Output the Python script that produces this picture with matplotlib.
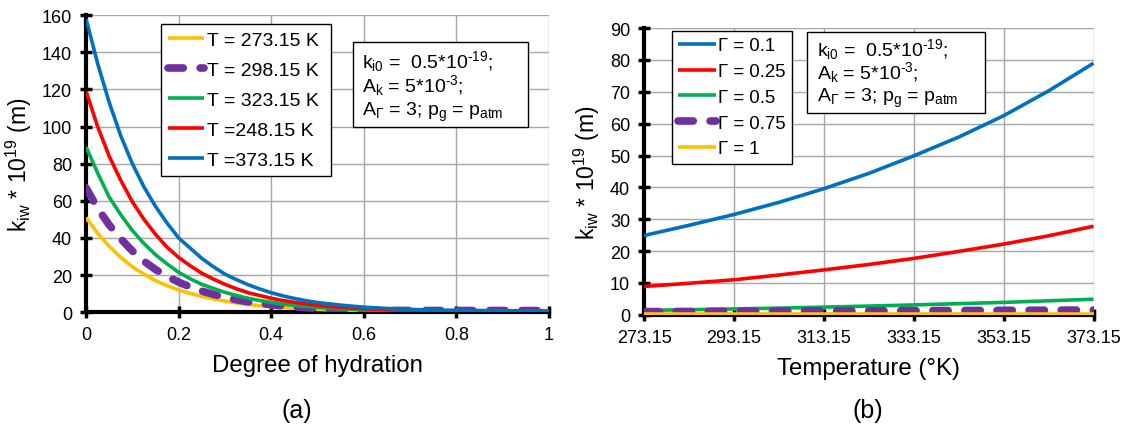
import matplotlib
matplotlib.use("Agg")
import matplotlib.pyplot as plt
from matplotlib.patches import Rectangle

plt.rcParams['font.family'] = ['Liberation Sans', 'DejaVu Sans']
plt.rcParams['mathtext.fontset'] = 'custom'
plt.rcParams['mathtext.rm'] = 'Liberation Sans'
plt.rcParams['mathtext.it'] = 'Liberation Sans:italic'

# (a) k_iw vs degree of hydration
hyd = [0, 0.025, 0.05, 0.075, 0.1, 0.125, 0.15, 0.175, 0.2, 0.225, 0.25,
       0.275, 0.3, 0.325, 0.35, 0.375, 0.4, 0.425, 0.45, 0.475, 0.5,
       0.55, 0.6, 0.65, 0.7, 0.75, 0.8, 0.85, 0.9, 0.95, 1.0]
k_273 = [51, 42.5, 35.5, 29.5, 24.5, 20.5, 17, 14.3, 12, 10.1, 8.5,
         7.1, 6, 5, 4.2, 3.5, 3, 2.5, 2.1, 1.8, 1.5,
         1.1, 0.8, 0.6, 0.5, 0.4, 0.35, 0.3, 0.3, 0.3, 0.3]
k_298 = [67, 56, 47, 39.5, 33, 27.5, 23, 19.3, 16.2, 13.6, 11.4,
         9.6, 8, 6.7, 5.6, 4.8, 4, 3.4, 2.8, 2.4, 2,
         1.5, 1.2, 1.0, 0.9, 0.9, 0.9, 0.9, 0.9, 0.9, 0.9]
k_323 = [89, 75, 62, 52.5, 44, 37, 31, 26, 21.5, 18, 15,
         12.8, 10.7, 9, 7.5, 6.3, 5.3, 4.4, 3.7, 3.1, 2.6,
         1.8, 1.3, 0.9, 0.65, 0.5, 0.4, 0.35, 0.3, 0.3, 0.3]
k_248 = [119, 100, 84, 71, 59.5, 50, 42, 35, 29.5, 25, 21,
         17.8, 15, 12.6, 10.5, 9, 7.5, 6.3, 5.3, 4.5, 3.7,
         2.6, 1.9, 1.3, 1.0, 0.7, 0.5, 0.4, 0.35, 0.3, 0.3]
k_373 = [158, 134, 113, 95, 80, 67.5, 57, 48, 40, 34.5, 29,
         24.5, 20.5, 17.5, 14.8, 12.5, 10.5, 8.8, 7.4, 6.2, 5.2,
         3.8, 2.7, 2.0, 1.5, 1.2, 1.0, 0.9, 0.8, 0.75, 0.7]

# (b) k_iw vs temperature
temp = [273.15, 283.15, 293.15, 303.15, 313.15, 323.15,
        333.15, 343.15, 353.15, 363.15, 373.15]
g_01 = [24.9, 28.1, 31.5, 35.3, 39.6, 44.4, 49.9, 55.8, 62.5, 70.3, 79.0]
g_025 = [8.9, 9.9, 11.0, 12.5, 14.1, 15.8, 17.7, 19.9, 22.2, 24.8, 27.8]
g_05 = [1.4, 1.6, 1.85, 2.1, 2.4, 2.75, 3.1, 3.5, 3.9, 4.4, 4.9]
g_075 = [1.0, 1.05, 1.1, 1.15, 1.2, 1.25, 1.3, 1.35, 1.4, 1.45, 1.5]
g_1 = [0.3, 0.3, 0.3, 0.3, 0.3, 0.3, 0.3, 0.3, 0.3, 0.3, 0.3]

YELLOW = '#FFC000'
PURPLE = '#7030A0'
GREEN = '#00B050'
RED = '#FF0000'
BLUE = '#0070C0'

ylab = r'k$_{\mathrm{iw}}$ * 10$^{\mathrm{19}}$ (m)'
note = [r'k$_{\mathrm{i0}}$ =  0.5*10$^{\mathrm{‐19}}$;',
        r'A$_{\mathrm{k}}$ = 5*10$^{\mathrm{‐3}}$;',
        r'A$_{\mathrm{\Gamma}}$ = 3; p$_{\mathrm{g}}$ = p$_{\mathrm{atm}}$']

W, H = 1132, 435
fig = plt.figure(figsize=(W / 100, H / 100), dpi=100)
ax1 = fig.add_axes([0.076, 0.280, 0.409, 0.683])
ax2 = fig.add_axes([0.569, 0.274, 0.397, 0.659])


def style(ax):
    ax.grid(True, color='#a6a6a6', lw=1)
    ax.set_axisbelow(True)
    for s in ['top', 'right']:
        ax.spines[s].set_visible(False)
    for s in ['left', 'bottom']:
        ax.spines[s].set_linewidth(3)
        ax.spines[s].set_zorder(2)
    ax.tick_params(direction='inout', length=8, width=2.5, labelsize=13, pad=6)


solid = dict(lw=2.6, zorder=3, solid_capstyle='butt')
dashed = dict(lw=5.5, zorder=3, ls=(0, (2.0, 2.2)), dash_capstyle='round')

ax1.plot(hyd, k_273, color=YELLOW, label='T = 273.15 K ', **solid)
ax1.plot(hyd, k_298, color=PURPLE, label='T = 298.15 K ', **dashed)
ax1.plot(hyd, k_323, color=GREEN, label='T = 323.15 K ', **solid)
ax1.plot(hyd, k_248, color=RED, label='T =248.15 K ', **solid)
ax1.plot(hyd, k_373, color=BLUE, label='T =373.15 K ', **solid)
ax1.set_xlim(0, 1)
ax1.set_ylim(0, 160)
ax1.set_xticks([0, 0.2, 0.4, 0.6, 0.8, 1])
ax1.set_xticklabels(['0', '0.2', '0.4', '0.6', '0.8', '1'])
ax1.set_yticks(range(0, 161, 20))
style(ax1)
ax1.set_xlabel('Degree of hydration', fontsize=17.3, labelpad=8)
ax1.set_ylabel(ylab, fontsize=16.5, labelpad=6)

ax2.plot(temp, g_01, color=BLUE, label='Γ = 0.1', **solid)
ax2.plot(temp, g_025, color=RED, label='Γ = 0.25', **solid)
ax2.plot(temp, g_05, color=GREEN, label='Γ = 0.5', **solid)
ax2.plot(temp, g_075, color=PURPLE, label='Γ = 0.75', **dashed)
ax2.plot(temp, g_1, color=YELLOW, label='Γ = 1', **solid)
ax2.set_xlim(273.15, 373.15)
ax2.set_ylim(0, 90)
xt = [273.15, 293.15, 313.15, 333.15, 353.15, 373.15]
ax2.set_xticks(xt)
ax2.set_xticklabels(['%.2f' % t for t in xt])
ax2.set_yticks(range(0, 91, 10))
style(ax2)
ax2.set_xlabel('Temperature (°K)', fontsize=17.3, labelpad=8)
ax2.set_ylabel(ylab, fontsize=16.5, labelpad=6)

leg_opts = [
    (ax1, (161, 25), 14, 0.64, 1.85, 0.36),
    (ax2, (672, 32), 13.4, 0.47, 2.0, 0.34),
]
for ax, (px, py), fs, lsp, hl, bp in leg_opts:
    leg = ax.legend(loc='upper left', bbox_to_anchor=(px / W, 1 - py / H),
                    bbox_transform=fig.transFigure, fontsize=fs,
                    handlelength=hl, handletextpad=0.15, labelspacing=lsp,
                    borderaxespad=0, borderpad=bp, fancybox=False,
                    framealpha=1, edgecolor='black')
    leg.get_frame().set_linewidth(1)
    leg.set_zorder(6)

# note boxes: (left, top, right, bottom) in pixels, text x, baselines
boxes = [
    ((353, 43, 528, 128), 362, [68.5, 92.5, 116.5]),
    ((807, 33, 985, 114), 817, [56.5, 79, 101.5]),
]
for (x0, y0, x1, y1), tx, bases in boxes:
    fig.add_artist(Rectangle((x0 / W, 1 - y1 / H), (x1 - x0) / W, (y1 - y0) / H,
                             transform=fig.transFigure, facecolor='white',
                             edgecolor='black', lw=1, zorder=5))
    for line, yb in zip(note, bases):
        fig.text(tx / W, 1 - yb / H, line, fontsize=14, va='baseline',
                 ha='left', zorder=6)

fig.text(297 / W, 0.04, '(a)', fontsize=18, ha='center', va='baseline')
fig.text(868 / W, 0.04, '(b)', fontsize=18, ha='center', va='baseline')

fig.savefig('out.png', dpi=100)
